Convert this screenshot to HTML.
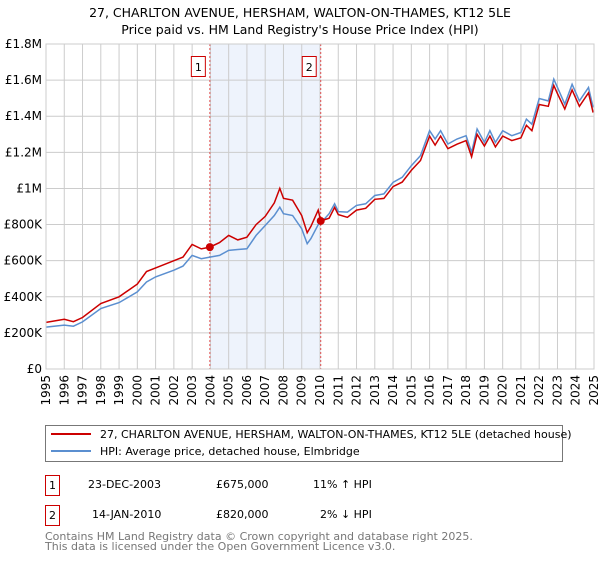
<!DOCTYPE html>
<html><head><meta charset="utf-8"><style>
body{margin:0;background:#fff;font-family:"Liberation Sans","DejaVu Sans",sans-serif}
svg text{font-family:"DejaVu Sans","Liberation Sans",sans-serif}
</style></head><body>
<svg id="chart" width="600" height="560" xmlns="http://www.w3.org/2000/svg">
<text x="300" y="17" text-anchor="middle" font-size="12.5" fill="#000">27, CHARLTON AVENUE, HERSHAM, WALTON-ON-THAMES, KT12 5LE</text>
<text x="300" y="34" text-anchor="middle" font-size="12.5" fill="#000">Price paid vs. HM Land Registry's House Price Index (HPI)</text>
<g id="plot"></g>
<g>
<rect x="45.5" y="425.5" width="517" height="36" fill="#fff" stroke="#777"/>
<line x1="51" y1="434" x2="91" y2="434" stroke="#cc0000" stroke-width="2"/>
<text x="100" y="438" font-size="11">27, CHARLTON AVENUE, HERSHAM, WALTON-ON-THAMES, KT12 5LE (detached house)</text>
<line x1="51" y1="451" x2="91" y2="451" stroke="#5b8fd0" stroke-width="2"/>
<text x="100" y="455" font-size="11">HPI: Average price, detached house, Elmbridge</text>
</g>
<g font-size="11">
<rect x="45.5" y="475.5" width="14" height="20" fill="#fff" stroke="#cc0000"/>
<text x="52.5" y="489" text-anchor="middle">1</text>
<text x="88" y="488">23-DEC-2003</text><text x="216" y="488">£675,000</text><text x="313" y="488">11% ↑ HPI</text>
<rect x="45.5" y="505.5" width="14" height="20" fill="#fff" stroke="#cc0000"/>
<text x="52.5" y="519" text-anchor="middle">2</text>
<text x="92" y="518">14-JAN-2010</text><text x="216" y="518">£820,000</text><text x="320" y="518">2% ↓ HPI</text>
</g>
<g font-size="11" fill="#777">
<text x="45" y="540">Contains HM Land Registry data © Crown copyright and database right 2025.</text>
<text x="45" y="550">This data is licensed under the Open Government Licence v3.0.</text>
</g>
</svg>
<script>
const dates=[1995,1996,1996.5,1997,1998,1999,2000,2000.5,2001,2002,2002.5,2003,2003.5,2003.97,2004.5,2005,2005.5,2006,2006.5,2007,2007.5,2007.8,2008,2008.5,2009,2009.3,2009.5,2009.9,2010.04,2010.5,2010.8,2011,2011.5,2012,2012.5,2013,2013.5,2014,2014.5,2015,2015.5,2016,2016.3,2016.6,2017,2017.5,2018,2018.3,2018.6,2019,2019.3,2019.6,2020,2020.5,2021,2021.3,2021.6,2022,2022.5,2022.8,2023,2023.4,2023.8,2024.2,2024.7,2024.95];
const hpi=[232,243,237,261,335,368,427,482,510,547,570,629,611,620,629,657,662,666,740,795,850,896,860,850,777,694,722,800,808,860,915,872,869,906,915,961,970,1034,1062,1126,1182,1320,1274,1320,1246,1274,1292,1200,1329,1255,1320,1255,1320,1292,1310,1384,1356,1498,1485,1605,1559,1467,1577,1485,1559,1449];
const price=[258,275,262,285,363,400,470,540,560,600,620,690,665,675,700,740,715,730,800,845,920,1000,945,935,850,755,790,880,820,835,895,855,840,880,890,940,945,1010,1035,1100,1155,1290,1240,1290,1220,1245,1265,1175,1300,1235,1290,1230,1290,1265,1280,1350,1320,1465,1455,1570,1525,1440,1545,1455,1530,1420];
const yTicks=[0,200,400,600,800,1000,1200,1400,1600,1800];
const yLabels=["£0","£200K","£400K","£600K","£800K","£1M","£1.2M","£1.4M","£1.6M","£1.8M"];
const years=[];for(let y=1995;y<=2025;y++)years.push(y);
const sales=[{n:"1",d:2003.97,v:675},{n:"2",d:2010.04,v:820}];
const X0=46,X1=594,Y0=369,Y1=44;
const xs=d=>X0+(d-1995)/30*(X1-X0);
const ys=v=>Y0-v/1800*(Y0-Y1);
const NS="http://www.w3.org/2000/svg";
const g=document.getElementById('plot');
function mk(t,a,p){const e=document.createElementNS(NS,t);for(const k in a)e.setAttribute(k,a[k]);(p||g).appendChild(e);return e;}
const shade=mk('rect',{x:xs(sales[0].d),y:Y1,width:xs(sales[1].d)-xs(sales[0].d),height:Y0-Y1,fill:'#eef3fc'});


yTicks.forEach((v,i)=>{
 const l=mk('line',{x1:X0,x2:X1,y1:ys(v),y2:ys(v),stroke:'#ccc'});
 
 
 const t=mk('text',{x:X0-4,y:ys(v)+4,'text-anchor':'end','font-size':'12'});
 
 
 t.textContent=yLabels[i];
});
years.forEach(y=>{
 const l=mk('line',{x1:xs(y),x2:xs(y),y1:Y1,y2:Y0,stroke:'#ccc'});
 
 
 const t=mk('text',{x:0,y:0,'text-anchor':'end','font-size':'12',transform:`translate(${xs(y)+4},${Y0+6}) rotate(-90)`});
 
 
 t.textContent=y;
});
sales.forEach(s=>{
 const l=mk('line',{x1:xs(s.d),x2:xs(s.d),y1:Y1,y2:Y0,stroke:'#e05050','stroke-dasharray':'2,2'});
 
 
 const r=mk('rect',{x:xs(s.d)-18.5,y:56.5,width:14,height:20,fill:'#fff',stroke:'#cc0000'});
 
 
 const t=mk('text',{x:xs(s.d)-11.5,y:71,'text-anchor':'middle','font-size':'11'});
 
 
 t.textContent=s.n;
});
const pth=arr=>arr.map((v,i)=>(i?'L':'M')+xs(dates[i]).toFixed(1)+','+ys(v).toFixed(1)).join('');
const hl=mk('path',{d:pth(hpi),fill:'none',stroke:'#5b8fd0','stroke-width':'1.5'});


const pl=mk('path',{d:pth(price),fill:'none',stroke:'#cc0000','stroke-width':'1.5'});


sales.forEach(s=>{
 const c=mk('circle',{cx:xs(s.d),cy:ys(s.v),r:4,fill:'#cc0000'});
 
 
});
const ax=mk('rect',{x:X0,y:Y1,width:X1-X0,height:Y0-Y1,fill:'none',stroke:'#ccc'});


</script>
</body></html>
